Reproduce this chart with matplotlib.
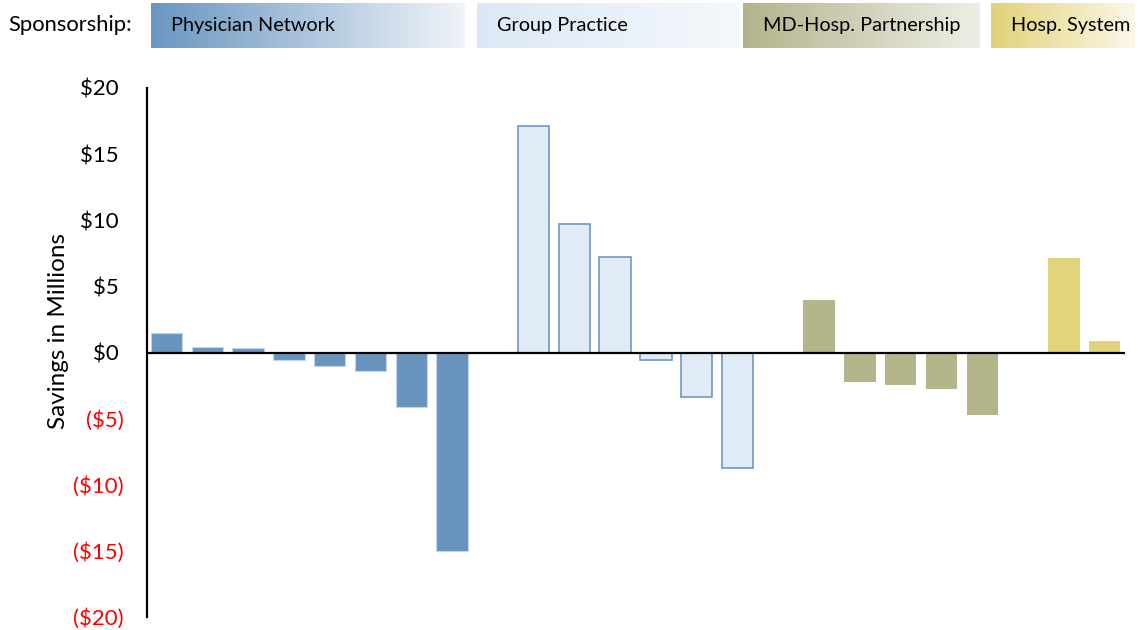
import numpy as np
import matplotlib
matplotlib.use("Agg")
import matplotlib.pyplot as plt
from matplotlib.colors import LinearSegmentedColormap

plt.rcParams['font.family'] = ['Lato', 'DejaVu Sans']

# -------------------
# DATA
# -------------------
groups = ["Physician Network", "Group Practice", "MD-Hosp. Partnership", "Hosp. System"]
physician_network = [1.5, 0.4, 0.35, -0.55, -1.05, -1.4, -4.1, -15.0]
group_practice = [17.1, 9.7, 7.2, -0.6, -3.35, -8.7]
md_hosp = [4.0, -2.25, -2.45, -2.75, -4.7]
hosp_system = [7.15, 0.9]
series = [physician_network, group_practice, md_hosp, hosp_system]

y_ticks = [20, 15, 10, 5, 0, -5, -10, -15, -20]

# -------------------
# STYLES
# -------------------
bar_styles = [
    dict(color="#6894be", edgecolor="#c3d5e8", linewidth=0.8),
    dict(color="#e1ebf6", edgecolor="#6e98c2", linewidth=1.2),
    dict(color="#b5b58c", edgecolor="none", linewidth=0),
    dict(color="#e1d47b", edgecolor="none", linewidth=0),
]
box_gradients = [
    ("#6a96c0", "#f0f4f9"),
    ("#dce8f5", "#f5f8fc"),
    ("#b3b38b", "#eeeee6"),
    ("#e0d27a", "#fcf8e8"),
]
# box extents in pixels (left, right)
box_x = [(151, 465), (477, 740), (743, 980), (991, 1135)]
BOX_TOP, BOX_BOTTOM = 3, 48

W, H = 1139, 630
fig = plt.figure(figsize=(W / 100, H / 100), dpi=100)

# -------------------
# BAR CHART
# -------------------
ax = fig.add_axes([147 / W, (H - 617) / H, (1125 - 147) / W, (617 - 88) / H])

pos = 0
for vals, style in zip(series, bar_styles):
    xs = np.arange(pos, pos + len(vals))
    ax.bar(xs, vals, width=0.77, zorder=2, **style)
    pos += len(vals) + 1

ax.axhline(0, color="black", linewidth=1.6, zorder=3)
ax.set_xlim(-0.48, pos - 1.5)
ax.set_ylim(-20, 20)

ax.set_yticks(y_ticks)
labels = []
for v in y_ticks:
    if v < 0:
        labels.append(f"(${-v})")
    else:
        labels.append(f"${v} ")
ax.set_yticklabels(labels, fontsize=16)
for lbl, v in zip(ax.get_yticklabels(), y_ticks):
    lbl.set_color("red" if v < 0 else "black")
ax.tick_params(axis="y", length=0, pad=16.5)
ax.set_xticks([])

for side in ["top", "right", "bottom"]:
    ax.spines[side].set_visible(False)
ax.spines["left"].set_linewidth(1.6)
ax.set_ylabel("Savings in Millions", fontsize=17.5)
ax.yaxis.set_label_coords(-0.080, 0.54)

# -------------------
# SPONSORSHIP KEY
# -------------------
kax = fig.add_axes([0, 0, 1, 1], zorder=5)
kax.axis("off")

kax.text(8, 25, "Sponsorship:", fontsize=15.8, ha="left", va="center")
grad = np.linspace(0, 1, 256).reshape(1, -1)
for name, (x0, x1), (c0, c1) in zip(groups, box_x, box_gradients):
    cmap = LinearSegmentedColormap.from_list(name, [c0, c1])
    kax.imshow(grad, cmap=cmap, aspect="auto",
               extent=(x0, x1, BOX_BOTTOM, BOX_TOP), zorder=1)
    kax.text(x0 + 20, 25, name, fontsize=14.3, ha="left", va="center", zorder=2)
kax.set_xlim(0, W)
kax.set_ylim(H, 0)

fig.savefig("out.png", dpi=100)
